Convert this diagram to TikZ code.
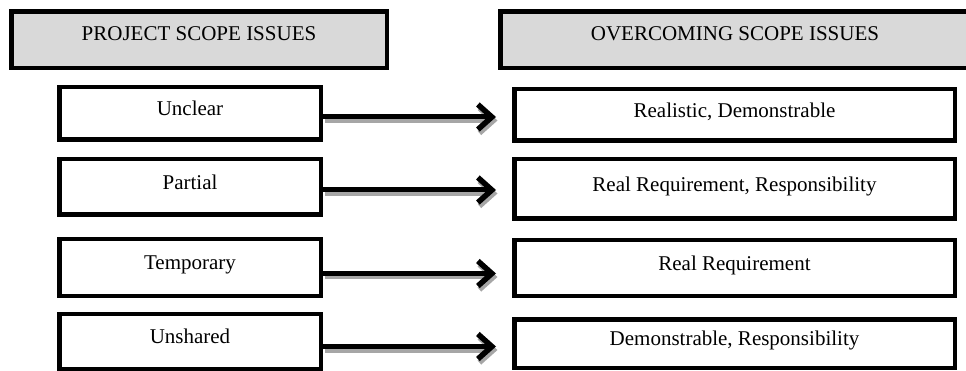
\documentclass[tikz,border=0pt]{standalone}
\usepackage{fontspec}
\setmainfont{Liberation Serif}
\usetikzlibrary{arrows.meta}

\tikzset{
  head/.style={draw, line width=4.5pt, fill=black!15, minimum height=56.5pt,
    font=\fontsize{21}{24}\selectfont, text height=0.68em, text depth=0.5em},
  issue/.style={draw, line width=4.5pt, fill=white, minimum width=261.5pt,
    font=\fontsize{21}{24}\selectfont, text height=0.68em, text depth=0.2em},
  fix/.style={issue, minimum width=440.5pt},
  flow/.style={line width=5pt, shorten >=16pt,
    -{Straight Barb[length=14pt,width=25pt,line width=5.5pt]}},
  flowshadow/.style={flow, draw=black!35}
}

\begin{document}
\begin{tikzpicture}[x=1pt,y=-1pt]
\useasboundingbox (0,0) rectangle (966,371);

\node[head, minimum width=375.5pt] (h1) at (199,40) {PROJECT SCOPE ISSUES};
\node[head, minimum width=469.5pt] (h2) at (735,40) {OVERCOMING SCOPE ISSUES};

\node[issue, minimum height=52.5pt] (l1) at (190,113.5) {Unclear};
\node[issue, minimum height=55.5pt] (l2) at (190,187) {Partial};
\node[issue, minimum height=56.5pt] (l3) at (190,267.5) {Temporary};
\node[issue, minimum height=55.5pt] (l4) at (190,341.5) {Unshared};

\node[fix, minimum height=51.5pt] (r1) at (734.5,115) {Realistic, Demonstrable};
\node[fix, minimum height=59.5pt] (r2) at (734.5,189) {Real Requirement, Responsibility};
\node[fix, minimum height=55.5pt] (r3) at (734.5,268) {Real Requirement};
\node[fix, minimum height=48.5pt] (r4) at (734.5,343.5) {Demonstrable, Responsibility};

\foreach \i/\d in {1/3.5, 2/3, 3/6, 4/5}
{
\draw[flowshadow] ([xshift=1.5pt,yshift={-\d pt-3.5pt}]l\i.east)
  -- ([xshift=1.5pt,yshift={-\d pt-3.5pt}]l\i.east -| r\i.west);
\draw[flow] ([yshift=-\d pt]l\i.east) -- ([yshift=-\d pt]l\i.east -| r\i.west);
}

\end{tikzpicture}
\end{document}
